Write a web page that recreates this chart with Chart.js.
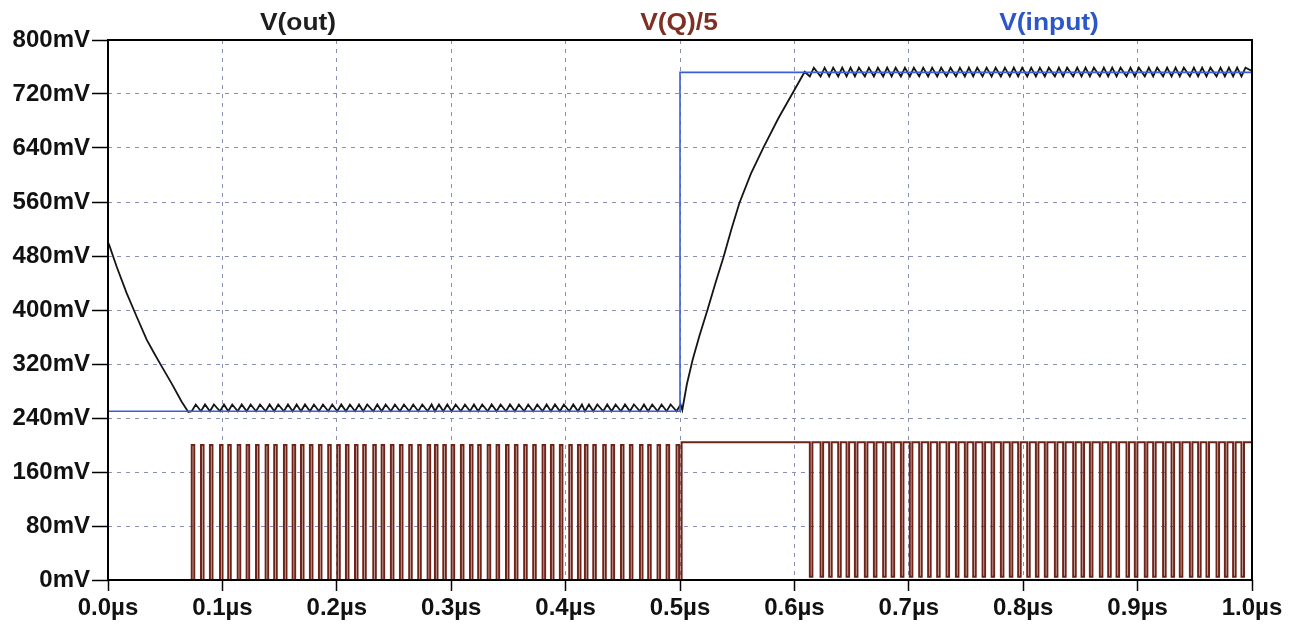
<!DOCTYPE html>
<html>
<head>
<meta charset="utf-8">
<title>V(out) / V(Q)/5 / V(input)</title>
<script src="https://cdn.jsdelivr.net/npm/chart.js@4.4.0/dist/chart.umd.min.js"></script>
<style>
  html, body { margin: 0; padding: 0; background: #fff; }
</style>
</head>
<body>
<canvas id="chart" width="1298" height="626"></canvas>
<script>
// time in µs, voltage in mV
const xTicks = [0, 0.1, 0.2, 0.3, 0.4, 0.5, 0.6, 0.7, 0.8, 0.9, 1.0];
const yTicks = [0, 80, 160, 240, 320, 400, 480, 560, 640, 720, 800];

// V(input): step at 0.5µs
const inputT = [0, 0.5, 0.5, 1.0];
const inputV = [250, 250, 752, 752];

// V(out): start-up decay and the ramp after the input step
const outDecayT = [0, 0.0011, 0.0076, 0.0163, 0.0251, 0.0338, 0.0400, 0.0454, 0.0557, 0.0644, 0.0702];
const outDecayV = [500, 496, 464, 425, 390, 356, 337, 321, 291, 264, 249];
const outRiseT = [0.502, 0.506, 0.511, 0.517, 0.524, 0.531, 0.538, 0.545, 0.552, 0.562, 0.573, 0.586, 0.599, 0.609];
const outRiseV = [252, 290, 326, 362, 400, 440, 478, 520, 559, 602, 641, 684, 723, 753];
const outEndV = 754;

// ripple levels around each switching cycle
const rippleLo1 = 250, rippleHi1 = 260;
const rippleLo2 = 746, rippleHi2 = 759;
const rippleRise = 0.0035;

// Q: short high pulses before the step, short low dips after it
const qPulseStarts = [0.0732, 0.0813, 0.0891, 0.0979, 0.1051, 0.1134, 0.1212, 0.1294, 0.1378, 0.1453,
  0.1538, 0.1614, 0.1687, 0.1765, 0.1844, 0.1925, 0.2004, 0.2080, 0.2159, 0.2231, 0.2319, 0.2392,
  0.2473, 0.2552, 0.2633, 0.2712, 0.2794, 0.2858, 0.2931, 0.3004, 0.3085, 0.3164, 0.3236, 0.3319,
  0.3397, 0.3479, 0.3557, 0.3638, 0.3717, 0.3799, 0.3872, 0.3950, 0.4032, 0.4108, 0.4169, 0.4242,
  0.4329, 0.4402, 0.4484, 0.4562, 0.4650, 0.4722, 0.4804, 0.4883, 0.4970];
const qDipStarts = [0.6135, 0.6229, 0.6304, 0.6383, 0.6456, 0.6529, 0.6616, 0.6695, 0.6776, 0.6850,
  0.6931, 0.7009, 0.7091, 0.7169, 0.7248, 0.7330, 0.7412, 0.7490, 0.7563, 0.7645, 0.7724, 0.7805,
  0.7883, 0.7956, 0.8035, 0.8111, 0.8189, 0.8277, 0.8349, 0.8437, 0.8510, 0.8583, 0.8670, 0.8743,
  0.8816, 0.8903, 0.8976, 0.9063, 0.9136, 0.9223, 0.9297, 0.9369, 0.9457, 0.9529, 0.9602, 0.9690,
  0.9763, 0.9835, 0.9908];
const qPulseWidth = 0.0022;
const qDipWidth = 0.0022;
const qHigh1 = 200, qHigh2 = 204, qLow2 = 5;
const qLongHighStart = 0.5014;

// build point lists
const inputPts = inputT.map((t, i) => ({ x: t, y: inputV[i] }));

const qPts = [{ x: 0, y: 0 }];
qPulseStarts.forEach(s => {
  qPts.push({ x: s, y: 0 }, { x: s, y: qHigh1 }, { x: s + qPulseWidth, y: qHigh1 }, { x: s + qPulseWidth, y: 0 });
});
qPts.push({ x: qLongHighStart, y: 0 }, { x: qLongHighStart, y: qHigh2 });
qDipStarts.forEach(d => {
  qPts.push({ x: d, y: qHigh2 }, { x: d, y: qLow2 }, { x: d + qDipWidth, y: qLow2 }, { x: d + qDipWidth, y: qHigh2 });
});
qPts.push({ x: 1.0, y: qHigh2 });

const outPts = outDecayT.map((t, i) => ({ x: t, y: outDecayV[i] }));
qPulseStarts.forEach(s => {
  outPts.push({ x: s, y: rippleLo1 }, { x: s + rippleRise, y: rippleHi1 });
});
outRiseT.forEach((t, i) => outPts.push({ x: t, y: outRiseV[i] }));
qDipStarts.forEach(d => {
  outPts.push({ x: d, y: rippleLo2 }, { x: d + rippleRise, y: rippleHi2 });
});
outPts.push({ x: 1.0, y: outEndV });

const tickFont = { family: '"Liberation Sans", Arial, sans-serif', size: 24, weight: 'bold' };

// trace names over the plot and the solid frame
const traceTitles = [
  { text: 'V(out)', x: 298, color: '#1e1e1e' },
  { text: 'V(Q)/5', x: 679, color: '#7d3024' },
  { text: 'V(input)', x: 1049, color: '#2b57c9' }
];

const framePlugin = {
  id: 'frame',
  afterDraw(chart) {
    const { ctx, chartArea: a } = chart;
    ctx.save();
    ctx.strokeStyle = '#000';
    ctx.lineWidth = 2;
    ctx.strokeRect(a.left, a.top, a.right - a.left, a.bottom - a.top);
    ctx.font = 'bold 24px "Liberation Sans", Arial, sans-serif';
    ctx.textAlign = 'center';
    ctx.textBaseline = 'alphabetic';
    traceTitles.forEach(t => {
      ctx.save();
      ctx.translate(t.x, 30);
      ctx.scale(1.1, 1);
      ctx.fillStyle = t.color;
      ctx.fillText(t.text, 0, 0);
      ctx.restore();
    });
    ctx.restore();
  }
};

new Chart(document.getElementById('chart').getContext('2d'), {
  type: 'line',
  data: {
    datasets: [
      { label: 'V(Q)/5', data: qPts, borderColor: '#6e2418', borderWidth: 2 },
      { label: 'V(input)', data: inputPts, borderColor: '#3b5fd6', borderWidth: 1.6 },
      { label: 'V(out)', data: outPts, borderColor: '#151515', borderWidth: 1.8 }
    ]
  },
  options: {
    responsive: false,
    devicePixelRatio: 1,
    animation: false,
    events: [],
    elements: { point: { radius: 0 }, line: { tension: 0, fill: false } },
    layout: { padding: { top: 40, right: 46, bottom: 0, left: 0 } },
    plugins: { legend: { display: false }, tooltip: { enabled: false } },
    scales: {
      x: {
        type: 'linear',
        min: 0,
        max: 1,
        afterBuildTicks: s => { s.ticks = xTicks.map(v => ({ value: v })); },
        afterFit: s => { s.height = 46; },
        ticks: {
          color: '#111',
          font: tickFont,
          padding: 3,
          maxRotation: 0,
          autoSkip: false,
          callback: v => Number(v).toFixed(1) + 'µs'
        },
        grid: {
          color: '#8a90b5',
          lineWidth: 1,
          tickColor: '#000',
          tickLength: 11,
          tickWidth: 1.5,
          tickBorderDash: []
        },
        border: { display: false, dash: [4, 5] }
      },
      y: {
        min: 0,
        max: 800,
        afterBuildTicks: s => { s.ticks = yTicks.map(v => ({ value: v })); },
        afterFit: s => { s.width = 108; },
        ticks: {
          color: '#111',
          font: tickFont,
          padding: 2,
          autoSkip: false,
          callback: v => v + 'mV'
        },
        grid: {
          color: '#8a90b5',
          lineWidth: 1,
          tickColor: '#000',
          tickLength: 16,
          tickWidth: 1.5,
          tickBorderDash: []
        },
        border: { display: false, dash: [4, 5] }
      }
    }
  },
  plugins: [framePlugin]
});
</script>
</body>
</html>
